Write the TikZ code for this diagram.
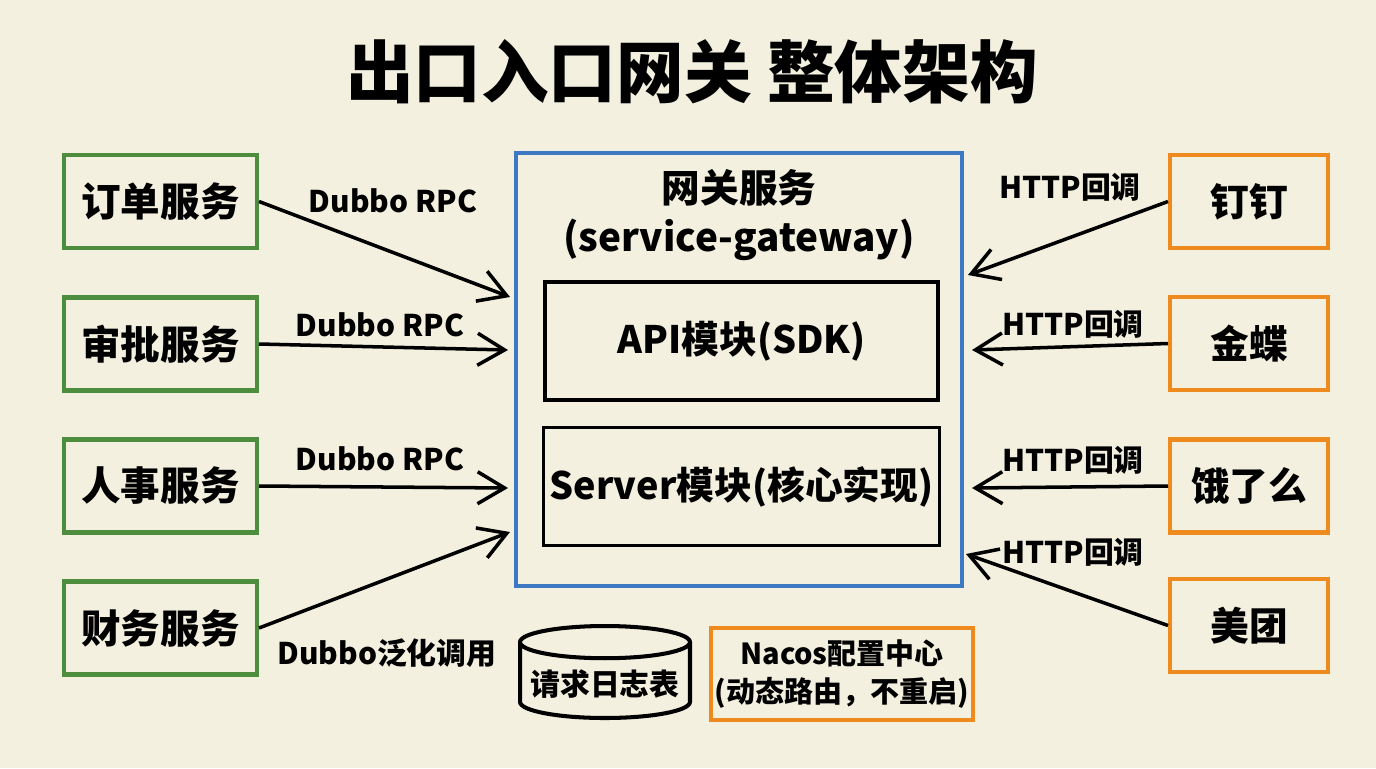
\documentclass[tikz,border=0pt]{standalone}
\usepackage{fontspec}
\setmainfont{Noto Sans CJK SC}
\usetikzlibrary{arrows.meta,shapes.geometric,calc}
\definecolor{PaperBg}{HTML}{F4F0E0}
\definecolor{SvcGreen}{HTML}{4F8D3E}
\definecolor{GwBlue}{HTML}{3D79C2}
\definecolor{ExtOrange}{HTML}{EF8A1E}

\begin{document}
\begin{tikzpicture}[x=0.02cm, y=-0.02cm,
  every node/.style={font=\bfseries},
  svc/.style={draw=SvcGreen, line width=2.3pt, fill=PaperBg, minimum width=3.86cm, minimum height=1.86cm, font=\bfseries\fontsize{22.5}{26}\selectfont},
  ext/.style={draw=ExtOrange, line width=2.3pt, fill=PaperBg, minimum width=3.16cm, minimum height=1.86cm, font=\bfseries\fontsize{22}{26}\selectfont},
  module/.style={draw=black, line width=1.8pt, minimum width=7.86cm, minimum height=2.36cm, font=\bfseries\fontsize{21.5}{26}\selectfont},
  lbl/.style={font=\bfseries\fontsize{17}{20}\selectfont},
  arr/.style={-{Straight Barb[length=5.4mm,width=6.4mm]}, line width=2pt, black}
]
\useasboundingbox[fill=PaperBg] (0,0) rectangle (1376,768);
\node[font=\bfseries\fontsize{38.5}{46}\selectfont] (title) at (692,72) {出口入口网关 整体架构};

% gateway
\node[draw=GwBlue, line width=2.3pt, minimum width=8.92cm, minimum height=8.66cm] (gw) at (739,369.5) {};
\node[align=center, font=\bfseries\fontsize{22}{28}\selectfont] (gwname) at (739,215) {网关服务\\(service-gateway)};
\node[module] (api) at (741.5,341) {API模块(SDK)};
\node[module] (server) at (741.5,486.5) {Server模块(核心实现)};

% internal services
\node[svc] (order) at (160.5,201.5) {订单服务};
\node[svc] (approve) at (160.5,344) {审批服务};
\node[svc] (hr) at (160.5,486) {人事服务};
\node[svc] (finance) at (160.5,628) {财务服务};

% third parties
\node[ext] (dingtalk) at (1249,201.5) {钉钉};
\node[ext] (kingdee) at (1249,343.5) {金蝶};
\node[ext] (eleme) at (1249,486) {饿了么};
\node[ext] (meituan) at (1249,625.5) {美团};

% storage and config
\node[cylinder, shape border rotate=90, aspect=0.2, draw, line width=2.3pt, minimum width=3.4cm, minimum height=1.84cm, font=\bfseries\fontsize{17}{20}\selectfont] (logtbl) at (605,684) {请求日志表};
\node[draw=ExtOrange, line width=2.3pt, minimum width=5.12cm, minimum height=1.84cm, inner xsep=2pt, align=center, font=\bfseries\fontsize{16.5}{22}\selectfont] (nacos) at (842,674) {Nacos配置中心\\(动态路由，不重启)};

% entry points on the gateway border
\coordinate (gin1) at (510,297);
\coordinate (gin2) at (508,350);
\coordinate (gin3) at (508,488);
\coordinate (gin4) at (510,532);
\coordinate (gout1) at (968,275);
\coordinate (gout2) at (972,350);
\coordinate (gout3) at (972,488);
\coordinate (gout4) at (966,554);

\draw[arr] (order.east) -- (gin1);
\draw[arr] (approve.east) -- (gin2);
\draw[arr] (hr.east) -- (gin3);
\draw[arr] (finance.east) -- (gin4);
\draw[arr] (dingtalk.west) -- (gout1);
\draw[arr] (kingdee.west) -- (gout2);
\draw[arr] (eleme.west) -- (gout3);
\draw[arr] (meituan.west) -- (gout4);

\node[lbl] (l1) at (393,201) {Dubbo RPC};
\node[lbl] (l2) at (380,325) {Dubbo RPC};
\node[lbl] (l3) at (380,459) {Dubbo RPC};
\node[lbl] (l4) at (387,653) {Dubbo泛化调用};
\node[lbl] (r1) at (1070,187) {HTTP回调};
\node[lbl] (r2) at (1073,324) {HTTP回调};
\node[lbl] (r3) at (1073,460) {HTTP回调};
\node[lbl] (r4) at (1073,552) {HTTP回调};
\end{tikzpicture}
\end{document}
